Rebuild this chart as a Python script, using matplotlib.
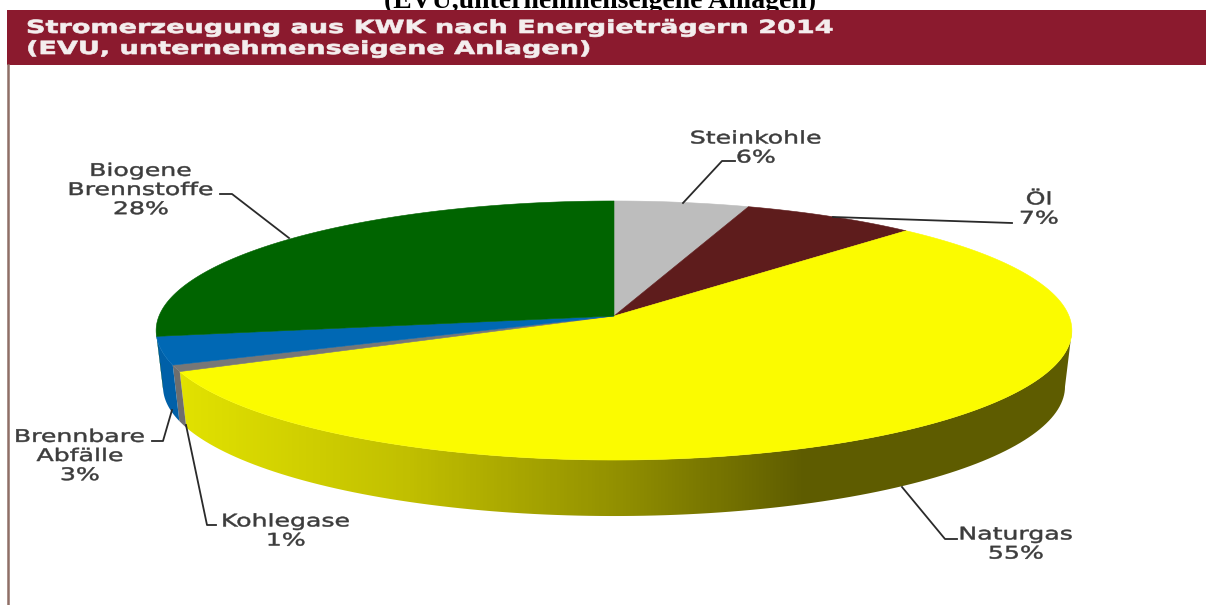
import matplotlib
matplotlib.use("Agg")
import matplotlib.pyplot as plt
import matplotlib.patheffects as pe
from matplotlib.colors import LinearSegmentedColormap
from matplotlib.patches import Polygon, Rectangle
from matplotlib.transforms import Affine2D
import numpy as np

# values as labelled in the chart
names = ["Steinkohle", "Öl", "Naturgas", "Kohlegase", "Brennbare\nAbfälle", "Biogene\nBrennstoffe"]
percent_labels = [6, 7, 55, 1, 3, 28]
# slice shares as they were actually drawn (read from the wedge edges)
drawn_shares = [5.3, 6.9, 56.0, 0.8, 3.5, 27.5]
top_colors = ["#bdbdbd", "#5e1c1c", "#fbfb00", "#777777", "#0068b4", "#006400"]
side_colors = ["#9a9a9a", "#401010", None, "#6e6e6e", "#0060a8", "#004c00"]

# pie projection (tilted disc with a bit of perspective), in pixels
CX, CY = 614, 316
A, B, K = 455, 127.9, 0.112
DEPTH = 56
BOTTOM_SCALE = 0.985  # the underside looks a little narrower


class Widen(pe.AbstractPathEffect):
    # the reference image is stretched sideways, so stretch the glyphs too
    def __init__(self, sx, centered=True, stroke=0.5):
        super().__init__()
        self.sx = sx
        self.centered = centered
        self.stroke = stroke

    def draw_path(self, renderer, gc, tpath, affine, rgbFace=None):
        c = tpath.get_extents().x0 / 2 + tpath.get_extents().x1 / 2 if self.centered else 0
        stretch = Affine2D().translate(-c, 0).scale(self.sx, 1).translate(c, 0)
        gc0 = renderer.new_gc()
        gc0.copy_properties(gc)
        gc0.set_linewidth(self.stroke)
        gc0.set_foreground(rgbFace)
        renderer.draw_path(gc0, tpath, stretch + affine, rgbFace)
        gc0.restore()


def project(theta):
    # theta in degrees, clockwise from the top of the pie
    t = np.radians(theta)
    u, v = np.sin(t), -np.cos(t)
    w = 1 - K * v
    return CX + A * u / w, CY + B * v / w


fig = plt.figure(figsize=(12.06, 6.05), dpi=100, facecolor="white")
ax = fig.add_axes([0, 0, 1, 1])
ax.set_xlim(0, 1206)
ax.set_ylim(605, 0)
ax.axis("off")

# clipped document heading behind the band
ax.text(600, 8, "(EVU,unternehmenseigene Anlagen)", family="Liberation Serif", weight="bold",
        fontsize=20, ha="center", va="baseline", color="black", zorder=1)
ax.add_patch(Rectangle((7, 10), 1199, 55, fc="#8b1a2e", ec="none", zorder=2))
ax.plot([7.5, 7.5], [65, 605], color="#8f6f66", lw=1.8, zorder=2)
for line, ypos in [("Stromerzeugung aus KWK nach Energieträgern 2014", 28),
                   ("(EVU, unternehmenseigene Anlagen)", 49)]:
    ax.text(26, ypos, line, family="DejaVu Sans", weight="bold", fontsize=13, color="#f4eeee",
            ha="left", va="center", zorder=3, path_effects=[Widen(1.5, centered=False)])

edges = np.concatenate([[0], np.cumsum(drawn_shares)]) / np.sum(drawn_shares) * 360

# side wall, only the arc facing the viewer
front_start = np.degrees(np.arccos(-K))
front_end = 360 - front_start
gradient = LinearSegmentedColormap.from_list(
    "wall", [(0, "#e2e200"), (0.25, "#c2c000"), (0.5, "#908e00"), (0.7, "#5e5c00"), (1, "#5e5c00")])

for i in range(len(drawn_shares)):
    a0, a1 = max(edges[i], front_start), min(edges[i + 1], front_end)
    if a1 <= a0:
        continue
    x, y = project(np.linspace(a0, a1, 120))
    x_low = CX + (x - CX) * BOTTOM_SCALE
    wall = np.column_stack([np.r_[x, x_low[::-1]], np.r_[y, y[::-1] + DEPTH]])
    if side_colors[i] is None:
        patch = Polygon(wall, fc="none", ec="none", zorder=3)
        ax.add_patch(patch)
        img = ax.imshow(np.linspace(0, 1, 256)[None, :], cmap=gradient, aspect="auto",
                        extent=(x.min(), x.max(), 600, 200), zorder=3)
        img.set_clip_path(patch)
    else:
        ax.add_patch(Polygon(wall, fc=side_colors[i], ec="none", zorder=3))
ax.set_xlim(0, 1206)
ax.set_ylim(605, 0)

# top faces
for i in range(len(drawn_shares)):
    x, y = project(np.linspace(edges[i], edges[i + 1], 200))
    pts = np.column_stack([np.r_[CX, x], np.r_[CY, y]])
    ax.add_patch(Polygon(pts, fc=top_colors[i], ec=top_colors[i], lw=0.4, zorder=4))

# label anchors and leader lines, in pixels
label_pos = [(756, 148), (1039, 209), (1016, 544), (286, 531), (80, 456), (141, 190)]
leaders = [
    [(683, 203), (722, 161), (735, 161)],
    [(833, 217), (1012, 223)],
    [(902, 487), (945, 539), (957, 539)],
    [(186, 425), (207, 525), (216, 525)],
    [(172, 410), (163, 441), (152, 441)],
    [(289, 238), (232, 194), (220, 194)],
]
for name, pct, pos, line in zip(names, percent_labels, label_pos, leaders):
    ax.text(pos[0], pos[1], f"{name}\n{pct}%", family="DejaVu Sans", fontsize=12.5, color="#3c3c3c",
            ha="center", va="center", linespacing=1.08, zorder=6,
            path_effects=[Widen(1.45, stroke=0.35)])
    ax.plot(*zip(*line), color="#2a2a2a", lw=1.3, zorder=5)

fig.savefig("out.png", dpi=100)
